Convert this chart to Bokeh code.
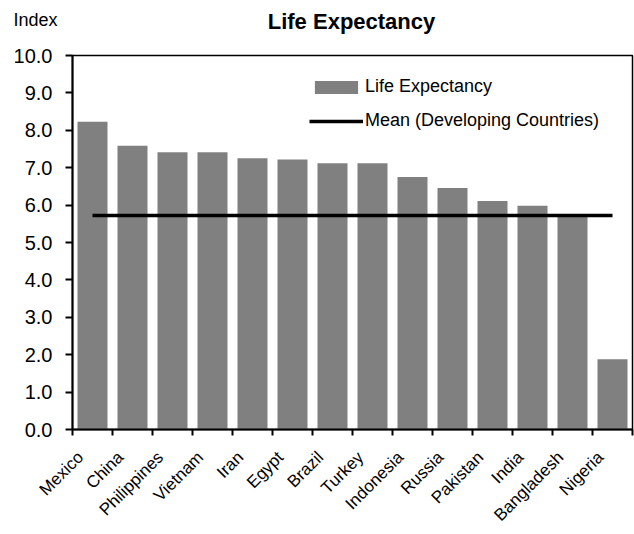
from math import pi
from bokeh.plotting import figure
from bokeh.layouts import column
from bokeh.models import (FixedTicker, Range1d, Legend, LegendItem,
                          ColumnDataSource, NumeralTickFormatter)
from bokeh.core.properties import value
from bokeh.embed import file_html
from bokeh.resources import INLINE

countries = ["Mexico", "China", "Philippines", "Vietnam", "Iran", "Egypt", "Brazil",
             "Turkey", "Indonesia", "Russia", "Pakistan", "India", "Bangladesh", "Nigeria"]
life_expectancy = [8.23, 7.59, 7.41, 7.41, 7.25, 7.22, 7.12, 7.12, 6.75, 6.46, 6.11, 5.98, 5.72, 1.88]
mean_developing = 5.72
y_ticks = [0, 1, 2, 3, 4, 5, 6, 7, 8, 9, 10]
chart_title = "Life Expectancy"
y_title = "Index"

FONT = "Liberation Sans"
W = 634
HEAD_H = 42
MAIN_H = 492
n = len(countries)
centers = [i + 0.5 for i in range(n)]
label_pos = [c - 0.3 for c in centers]

# ---- header with title texts ----
head = figure(width=W, height=HEAD_H, output_backend="svg", toolbar_location=None,
              x_range=Range1d(0, W), y_range=Range1d(0, HEAD_H),
              x_axis_type=None, y_axis_type=None, min_border=0)
head.frame_align = False
head.grid.visible = False
head.outline_line_color = None
head.text(x=[13], y=[23], text=[y_title], text_font=value(FONT), text_font_size="18px",
          text_align="left", text_baseline="alphabetic", text_color="black")
head.text(x=[351], y=[21], text=[chart_title], text_font=value(FONT), text_font_size="22px",
          text_font_style="bold", text_align="center", text_baseline="alphabetic",
          text_color="black")

# ---- main chart ----
p = figure(width=W, height=MAIN_H, output_backend="svg", toolbar_location=None,
           x_range=Range1d(0, n), y_range=Range1d(y_ticks[0], y_ticks[-1]),
           min_border_left=72, min_border_right=2, min_border_top=13, min_border_bottom=100)
p.frame_align = False
p.grid.visible = False
p.outline_line_color = "black"
p.outline_line_width = 1.5
p.background_fill_color = "white"
p.border_fill_color = "white"

src = ColumnDataSource(dict(x=centers, top=life_expectancy, name=countries))
bars = p.vbar(x="x", top="top", width=0.75, source=src, fill_color="#808080", line_color=None)
mean_line = p.line(x=[centers[0], centers[-1]], y=[mean_developing, mean_developing],
                   line_color="black", line_width=3.5)

ya = p.yaxis[0]
ya.ticker = FixedTicker(ticks=y_ticks)
ya.formatter = NumeralTickFormatter(format="0.0")
ya.major_label_text_font = FONT
ya.major_label_text_font_size = "20px"
ya.major_label_text_color = "black"
ya.major_tick_out = 7
ya.major_tick_in = 0
ya.minor_tick_out = 0
ya.minor_tick_in = 0
ya.axis_line_width = 2
ya.major_tick_line_width = 2
ya.major_label_standoff = 13

xa = p.xaxis[0]
xa.ticker = FixedTicker(ticks=label_pos, minor_ticks=list(range(n + 1)))
xa.major_label_overrides = {c: name for c, name in zip(label_pos, countries)}
xa.major_label_orientation = pi / 4
xa.major_label_text_font = FONT
xa.major_label_text_font_size = "17px"
xa.major_label_text_color = "black"
xa.major_tick_out = 0
xa.major_tick_in = 0
xa.minor_tick_out = 6
xa.minor_tick_in = 0
xa.minor_tick_line_width = 2
xa.minor_tick_line_color = "black"
xa.axis_line_width = 2
xa.major_label_standoff = 19

legend = Legend(items=[LegendItem(label="Life Expectancy", renderers=[bars]),
                       LegendItem(label="Mean (Developing Countries)", renderers=[mean_line])],
                location=(237, 298), orientation="vertical",
                glyph_width=54, glyph_height=16, label_height=16, spacing=13,
                padding=0, margin=0, border_line_alpha=0, background_fill_alpha=0,
                label_text_font=FONT, label_text_font_size="18px", label_standoff=2,
                label_text_color="black")
p.add_layout(legend, "center")

layout = column(head, p, spacing=0)
open("out.html", "w").write(file_html(layout, INLINE))
